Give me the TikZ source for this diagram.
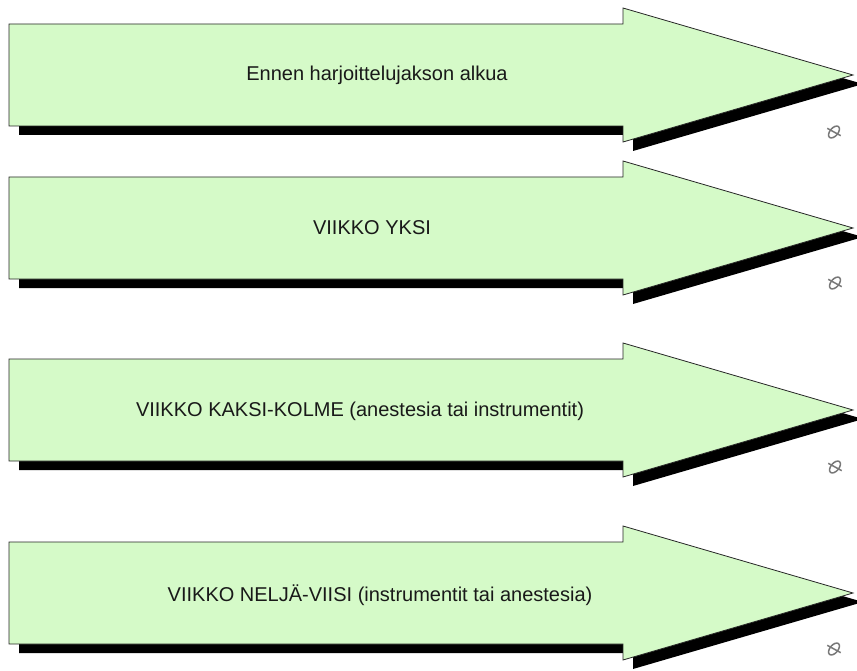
\documentclass[tikz,border=0pt]{standalone}
\usepackage{fontspec}
\setmainfont{Liberation Sans}
\definecolor{arrowfill}{RGB}{213,250,200}
\definecolor{icongrey}{RGB}{120,120,120}
\tikzset{
  phasefill/.style={fill=arrowfill, draw=black!85, line width=0.8pt, line join=miter},
  phaseshadow/.style={fill=black, draw=none},
  phaselabel/.style={font=\fontsize{20}{23}\selectfont, text=black!90, inner sep=0pt, anchor=center},
  linkicon/.style={draw=icongrey, line width=1.5pt}
}
\newcommand{\phasearrowshape}[2]{%
  % #1 = centre y, #2 = style
  \path[#2] (9,#1-51) -- (623,#1-51) -- (623,#1-67) -- (853,#1) -- (623,#1+67)
     -- (623,#1+51) -- (9,#1+51) -- cycle;}
\newcommand{\linkglyph}[3]{%
  \begin{scope}[shift={(#1,#2)}, rotate=50]
    \draw[linkicon] (0,0) ellipse [x radius=7, y radius=4];
    \draw[linkicon] (-1.5,-7.5) -- (1.5,7.5);
  \end{scope}
  \coordinate (#3) at (#1,#2);}
\begin{document}
\begin{tikzpicture}[x=1pt, y=-1pt]
  \useasboundingbox (0,0) rectangle (857,671);
  % shadows
  \begin{scope}[shift={(10,9)}]
    \phasearrowshape{75}{phaseshadow}
    \phasearrowshape{228}{phaseshadow}
    \phasearrowshape{410}{phaseshadow}
    \phasearrowshape{593}{phaseshadow}
  \end{scope}
  % arrows
  \phasearrowshape{75}{phasefill}
  \phasearrowshape{228}{phasefill}
  \phasearrowshape{410}{phasefill}
  \phasearrowshape{593}{phasefill}
  % labels
  \node[phaselabel] (l1) at (377,75) {Ennen harjoittelujakson alkua};
  \node[phaselabel] (l2) at (372,228) {VIIKKO YKSI};
  \node[phaselabel] (l3) at (360,411) {VIIKKO KAKSI-KOLME (anestesia tai instrumentit)};
  \node[phaselabel] (l4) at (380,595) {VIIKKO NELJÄ-VIISI (instrumentit tai anestesia)};
  % link icons
  \linkglyph{834}{132}{i1}
  \linkglyph{835}{283}{i2}
  \linkglyph{835}{467}{i3}
  \linkglyph{834}{649}{i4}
\end{tikzpicture}
\end{document}
